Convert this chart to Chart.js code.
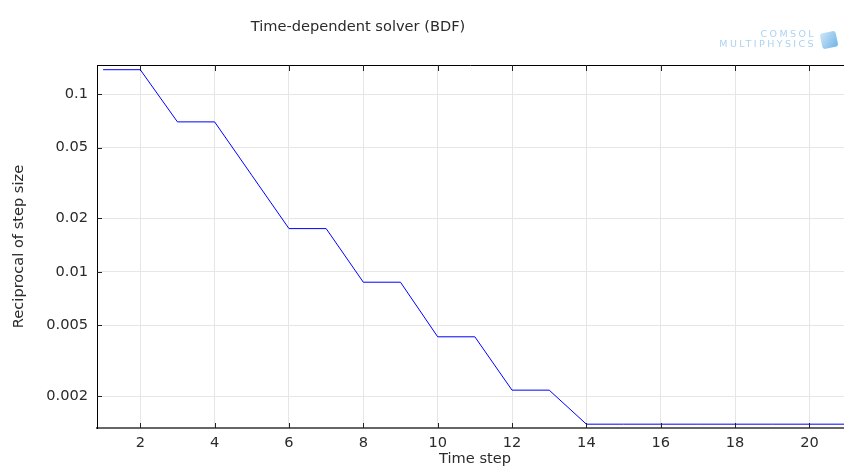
<!DOCTYPE html>
<html>
<head>
    <meta charset="utf-8">
    <title>Time-dependent solver (BDF)</title>
    <script src="https://cdn.jsdelivr.net/npm/chart.js@4.4.0/dist/chart.umd.min.js"></script>
    <style>
        body { margin: 0; background: #fff; }
        #wrap { position: relative; width: 844px; height: 468px; }
        #logo { position: absolute; right: 28px; top: 29px; text-align: right; color: #acd2f0;
                font-family: "DejaVu Sans", sans-serif; font-size: 9.5px; line-height: 10px; letter-spacing: 2.4px; }
        #cube { position: absolute; left: 821px; top: 32px; width: 16px; height: 16px;
                background: linear-gradient(135deg, #cfe6f8, #6fb4e6); border-radius: 3px; transform: rotate(-12deg); }
    </style>
</head>
<body>
<div id="wrap">
  <canvas id="solverChart" width="844" height="468"></canvas>
  <div id="logo">COMSOL<br>MULTIPHYSICS</div>
  <div id="cube"></div>
</div>
<script>
const steps = [1, 2, 3, 4, 5, 6, 7, 8, 9, 10, 11, 12, 13, 14, 15, 16, 17, 18, 19, 20, 21];
const reciprocal = [0.137, 0.137, 0.0697, 0.0697, 0.0349, 0.0175, 0.0175, 0.00874, 0.00874,
                    0.00431, 0.00431, 0.00216, 0.00216, 0.00139, 0.00139, 0.00139, 0.00139,
                    0.00139, 0.00139, 0.00139, 0.00139];
const xTickValues = [2, 4, 6, 8, 10, 12, 14, 16, 18, 20];
const yTickValues = [0.002, 0.005, 0.01, 0.02, 0.05, 0.1];

const textColor = '#2b2b2b';
const fontFamily = '"DejaVu Sans", sans-serif';
const fontSize = 14.6;

// title, top border and the inward tick marks
const framePlugin = {
    id: 'frame',
    afterDraw(chart) {
        const ctx = chart.ctx;
        const area = chart.chartArea;
        const x = chart.scales.x, y = chart.scales.y;
        ctx.save();
        ctx.fillStyle = textColor;
        ctx.font = fontSize + 'px ' + fontFamily;
        ctx.textAlign = 'center';
        ctx.textBaseline = 'middle';
        ctx.fillText('Time-dependent solver (BDF)', 358, 27);
        ctx.fillText('Time step', 475, 459);

        ctx.strokeStyle = '#000';
        ctx.lineWidth = 1;
        ctx.beginPath();
        ctx.moveTo(area.left, area.top + 0.5);
        ctx.lineTo(area.right, area.top + 0.5);
        ctx.stroke();

        ctx.strokeStyle = '#222';
        ctx.beginPath();
        xTickValues.forEach(v => {
            const px = Math.round(x.getPixelForValue(v)) + 0.5;
            ctx.moveTo(px, area.top);
            ctx.lineTo(px, area.top + 6);
            ctx.moveTo(px, area.bottom);
            ctx.lineTo(px, area.bottom - 5);
        });
        yTickValues.forEach(v => {
            const py = Math.round(y.getPixelForValue(v)) + 0.5;
            ctx.moveTo(area.left, py);
            ctx.lineTo(area.left + 5, py);
        });
        ctx.stroke();
        ctx.restore();
    }
};

new Chart(document.getElementById('solverChart'), {
    type: 'line',
    data: {
        labels: steps,
        datasets: [{
            data: steps.map((s, i) => ({ x: s, y: reciprocal[i] })),
            borderColor: '#0000ff',
            borderWidth: 1,
            pointRadius: 0,
            tension: 0,
            fill: false
        }]
    },
    options: {
        responsive: false,
        animation: false,
        layout: { padding: { top: 65, right: 0, left: 0, bottom: 0 } },
        plugins: { legend: { display: false }, tooltip: { enabled: false } },
        scales: {
            x: {
                type: 'linear',
                min: 0.836,
                max: 20.93,
                afterBuildTicks: s => { s.ticks = xTickValues.map(v => ({ value: v })); },
                afterFit: s => { s.height = 40; },
                grid: { color: '#e6e6e6', drawTicks: false },
                border: { color: '#666', width: 2 },
                ticks: { color: textColor, font: { family: fontFamily, size: fontSize }, padding: 6, maxRotation: 0 }
            },
            y: {
                type: 'logarithmic',
                min: 0.001323,
                max: 0.1456,
                afterBuildTicks: s => { s.ticks = yTickValues.map(v => ({ value: v })); },
                afterFit: s => { s.width = 97; },
                grid: { color: '#e6e6e6', drawTicks: false },
                border: { color: '#000', width: 1 },
                ticks: { color: textColor, font: { family: fontFamily, size: fontSize }, padding: 9,
                         callback: v => String(v) },
                title: { display: true, text: 'Reciprocal of step size', color: textColor,
                         font: { family: fontFamily, size: fontSize }, padding: { top: 10, bottom: 0 } }
            }
        }
    },
    plugins: [framePlugin]
});
</script>
</body>
</html>
